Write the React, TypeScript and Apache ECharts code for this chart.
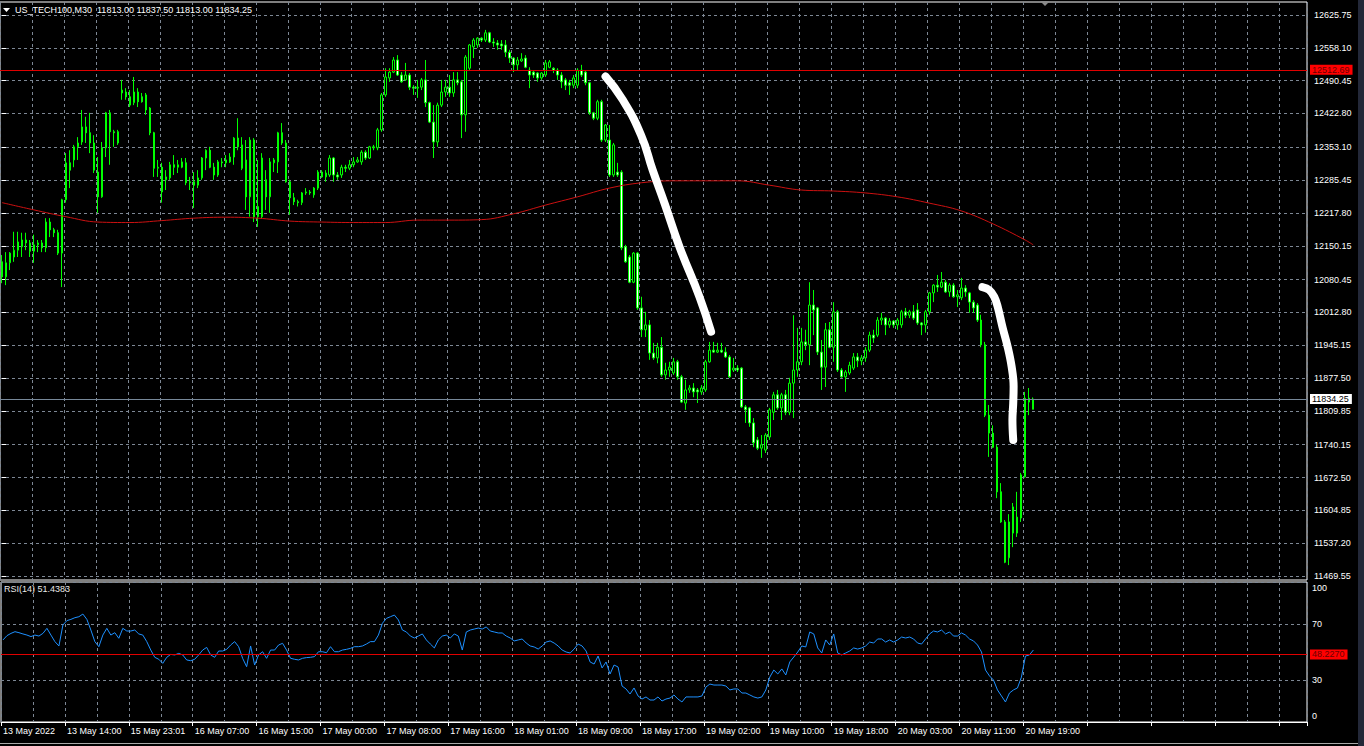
import React, { useEffect, useRef } from "react";
import * as echarts from "echarts";

const FONT = "'Liberation Sans', Arial, sans-serif";

const symbolHeader = "US_TECH100,M30";
const headerOHLC = ["11813.00", "11837.50", "11813.00", "11834.25"];
const rsiHeader = "RSI(14) 51.4383";

const priceTickLabels = [
  "11469.55", "11537.20", "11604.85", "11672.50", "11740.15", "11809.85",
  "11877.50", "11945.15", "12012.80", "12080.45", "12150.15", "12217.80",
  "12285.45", "12353.10", "12422.80", "12490.45", "12558.10", "12625.75",
];
const rsiTickValues = [0, 30, 70, 100];
const timeTickLabels = [
  "13 May 2022", "13 May 14:00", "15 May 23:01", "16 May 07:00", "16 May 15:00",
  "17 May 00:00", "17 May 08:00", "17 May 16:00", "18 May 01:00", "18 May 09:00",
  "18 May 17:00", "19 May 02:00", "19 May 10:00", "19 May 18:00", "20 May 03:00",
  "20 May 11:00", "20 May 19:00",
];

// [open, close, low, high]
const candles = [
  [12117,12086,12073,12131],[12086,12115,12069,12137],[12115,12135,12100,12137],[12127,12141,12117,12179],
  [12141,12158,12127,12179],[12148,12162,12127,12177],[12162,12156,12141,12177],[12156,12139,12127,12162],
  [12139,12152,12115,12173],[12152,12156,12137,12162],[12156,12146,12137,12162],[12146,12199,12137,12207],
  [12199,12183,12168,12207],[12183,12177,12168,12187],[12177,12135,12131,12183],[12135,12245,12065,12247],
  [12245,12321,12239,12341],[12321,12306,12269,12347],[12327,12354,12312,12358],[12354,12362,12327,12374],
  [12364,12395,12358,12430],[12395,12383,12362,12416],[12383,12362,12341,12424],[12362,12306,12300,12378],
  [12302,12251,12218,12333],[12251,12352,12249,12364],[12352,12424,12333,12426],[12424,12385,12317,12430],
  [12385,12383,12354,12389],[12385,12362,12358,12389],[12465,12471,12451,12492],[12467,12457,12451,12475],
  [12457,12440,12436,12471],[12445,12467,12440,12498],[12467,12447,12436,12475],[12457,12447,12445,12465],
  [12461,12430,12420,12465],[12434,12383,12378,12436],[12383,12310,12292,12385],[12310,12312,12292,12327],
  [12312,12261,12239,12321],[12286,12292,12265,12306],[12290,12317,12286,12323],[12317,12312,12296,12337],
  [12312,12317,12300,12327],[12312,12323,12310,12331],[12321,12280,12275,12331],[12280,12282,12265,12292],
  [12282,12275,12228,12302],[12275,12290,12269,12306],[12290,12331,12286,12333],[12331,12347,12306,12349],
  [12347,12312,12310,12354],[12312,12296,12286,12321],[12296,12323,12292,12327],[12323,12321,12312,12331],
  [12321,12327,12312,12337],[12323,12333,12321,12341],[12333,12372,12317,12374],[12372,12354,12347,12413],
  [12358,12310,12306,12374],[12327,12251,12224,12368],[12251,12368,12210,12374],[12368,12210,12199,12372],
  [12210,12231,12189,12327],[12210,12331,12207,12341],[12286,12251,12224,12306],[12251,12323,12218,12331],
  [12321,12327,12302,12331],[12323,12383,12300,12385],[12383,12362,12358,12403],[12362,12282,12280,12368],
  [12282,12249,12214,12286],[12249,12241,12234,12259],[12241,12239,12231,12245],[12239,12259,12234,12261],
  [12259,12261,12255,12269],[12261,12259,12255,12265],[12255,12269,12249,12271],[12269,12302,12265,12306],
  [12302,12292,12290,12306],[12292,12300,12282,12306],[12296,12331,12292,12337],[12331,12296,12282,12333],
  [12296,12292,12286,12302],[12296,12312,12290,12317],[12312,12310,12302,12317],[12310,12317,12306,12327],
  [12317,12323,12312,12333],[12323,12327,12321,12333],[12323,12343,12317,12347],[12343,12331,12327,12347],
  [12331,12354,12329,12356],[12352,12354,12347,12358],[12352,12389,12347,12393],[12389,12461,12385,12465],
  [12461,12498,12457,12516],[12496,12508,12488,12516],[12508,12533,12506,12539],[12533,12502,12500,12543],
  [12502,12488,12486,12508],[12492,12502,12490,12527],[12502,12477,12471,12506],[12477,12475,12461,12481],
  [12475,12477,12455,12492],[12477,12492,12471,12496],[12492,12445,12436,12533],[12445,12405,12403,12447],
  [12405,12364,12331,12440],[12364,12440,12354,12445],[12440,12467,12436,12492],[12467,12477,12457,12492],
  [12477,12465,12457,12502],[12465,12492,12457,12508],[12492,12486,12481,12508],[12488,12420,12372,12492],
  [12420,12539,12385,12543],[12516,12564,12512,12566],[12560,12574,12537,12578],[12564,12578,12558,12580],
  [12578,12574,12570,12580],[12574,12589,12570,12595],[12589,12570,12568,12591],[12570,12568,12560,12578],
  [12568,12564,12554,12574],[12566,12562,12554,12574],[12564,12549,12539,12574],[12549,12537,12527,12554],
  [12537,12523,12508,12539],[12523,12533,12512,12539],[12531,12535,12529,12547],[12537,12518,12516,12543],
  [12512,12502,12475,12518],[12508,12502,12496,12512],[12506,12496,12488,12508],[12496,12506,12492,12508],
  [12502,12527,12498,12533],[12518,12529,12516,12533],[12516,12512,12506,12518],[12512,12502,12492,12516],
  [12502,12488,12475,12508],[12492,12481,12471,12496],[12486,12481,12461,12492],[12481,12496,12475,12502],
  [12481,12512,12475,12516],[12512,12502,12498,12523],[12508,12486,12481,12512],[12486,12424,12420,12488],
  [12424,12413,12409,12426],[12413,12447,12409,12451],[12447,12368,12364,12451],[12368,12399,12364,12401],
  [12368,12296,12292,12399],[12296,12358,12292,12362],[12302,12296,12292,12321],[12302,12146,12141,12306],
  [12148,12117,12115,12152],[12127,12075,12073,12131],[12075,12135,12073,12137],[12135,12022,12018,12137],
  [12022,11977,11962,12045],[11977,11987,11962,12014],[11987,11929,11915,11997],[11929,11919,11915,11950],
  [11919,11941,11908,11950],[11941,11884,11880,11962],[11884,11894,11874,11909],[11894,11900,11880,11911],
  [11888,11911,11884,11919],[11911,11880,11874,11915],[11880,11828,11826,11884],[11826,11853,11812,11874],
  [11853,11857,11847,11863],[11857,11849,11838,11867],[11853,11849,11826,11857],[11849,11857,11843,11863],
  [11853,11911,11849,11915],[11911,11935,11909,11952],[11935,11931,11929,11952],[11931,11935,11929,11950],
  [11935,11931,11929,11950],[11931,11921,11919,11941],[11921,11880,11878,11925],[11894,11898,11890,11919],
  [11898,11894,11890,11904],[11898,11818,11816,11900],[11818,11812,11785,11822],[11816,11785,11777,11818],
  [11785,11744,11735,11795],[11750,11733,11729,11756],[11733,11740,11713,11760],[11729,11760,11723,11764],
  [11756,11812,11750,11816],[11807,11843,11791,11849],[11843,11816,11812,11853],[11816,11843,11791,11847],
  [11843,11807,11801,11853],[11807,11867,11801,11878],[11867,11894,11795,12007],[11894,11911,11880,11981],
  [11911,11952,11904,11981],[11952,11946,11935,11977],[11946,12028,11904,12075],[12028,12018,11966,12059],
  [12022,11931,11925,12024],[11931,11900,11853,11956],[11900,11977,11859,11991],[11977,11941,11939,11993],
  [11941,12014,11911,12034],[12014,11894,11890,12018],[11894,11880,11878,11898],[11880,11890,11849,11894],
  [11888,11904,11884,11911],[11898,11921,11894,11929],[11921,11913,11900,11929],[11913,11919,11904,11925],
  [11919,11935,11911,11941],[11935,11966,11931,11973],[11966,11960,11950,11977],[11966,11997,11962,12003],
  [11997,12001,11987,12012],[12001,11987,11966,12003],[11987,11995,11981,12001],[11995,11987,11981,11997],
  [11987,11997,11977,12001],[11987,12014,11981,12018],[12014,12007,12001,12022],[12007,12014,12001,12018],
  [12014,12001,11997,12028],[12018,11991,11987,12032],[11991,11987,11966,11993],[11987,12014,11971,12018],
  [12014,12053,12008,12055],[12053,12069,12034,12071],[12069,12065,12055,12090],[12065,12075,12063,12096],
  [12075,12055,12053,12080],[12055,12069,12045,12073],[12069,12045,12043,12073],[12045,12049,12024,12059],
  [12043,12063,12038,12084],[12063,12055,12045,12069],[12053,12034,12012,12055],[12034,12022,12012,12038],
  [12028,11997,11993,12032],[11997,11946,11941,12008],[11946,11801,11797,11952],[11801,11764,11715,11822],
  [11764,11735,11733,11780],[11735,11643,11630,11740],[11643,11581,11579,11661],[11581,11498,11496,11585],
  [11507,11581,11492,11597],[11612,11558,11529,11620],[11558,11591,11550,11643],[11589,11678,11581,11682],
  [11674,11836,11672,11849],[11836,11828,11801,11857],[11813,11834.25,11813,11837.5],
];

const rsiValues = [
  58.6,61.7,63.3,64.5,63.8,62.9,62.1,61,62.1,61.4,63.3,66.9,62.1,57.4,54.3,69.3,72.4,73.3,74.5,75.2,
  77.1,73.3,65.7,57.4,53.8,62.1,66.9,62.1,63.8,59.8,66.9,65,65,65.7,62.9,62.1,57.4,51.4,46.2,44.8,
  41.9,46.2,48.3,47.9,49,47.9,44.3,43.8,44.8,47.9,51.4,53.3,47.9,46.2,50.7,50.7,51.9,55,57.4,53.8,
  45.5,39.5,54.3,40.7,47.9,50.2,45.5,51.4,51.4,55,56.2,51.4,45.5,44.8,44.3,45.5,46,46.2,46.7,50.2,
  50.2,49.5,53.8,50.2,50.2,51.4,51.9,52.6,53.8,53.8,54.3,55.7,57.4,57.4,62.1,70.5,74,75.2,76.4,72.9,
  65.7,64.3,61.4,60,61.4,62.9,58.6,55.7,52.9,58.6,61.4,62.1,60,62.9,61.4,51.4,64.3,65.7,66.4,67.1,
  66.4,67.9,65,64.3,63.6,63.6,61.4,60,57.9,58.6,59.3,56.4,54.3,53.6,52.1,54.3,57.1,57.9,56.4,54.3,
  51.4,50,49.3,52.1,55.7,54.3,50.7,42.9,41.4,47.1,38.6,42.9,34.3,40.7,39.3,25.7,23.6,20,24.3,18.6,
  16.4,17.9,15.7,15.7,17.9,15,16.4,17.1,19.3,16.4,14.3,17.9,17.9,17.9,17.9,18.6,25,27.1,26.4,26.4,
  26.4,25.7,22.9,23.6,23.6,20.7,20.7,19.3,17.9,17.1,17.9,22.9,32.1,37.1,34.3,37.9,33.6,42.9,46.4,50,
  54.3,53.6,64.3,62.9,52.9,49.3,58.6,55,62.9,49.3,47.9,49.3,50.7,52.9,52.1,52.9,54.3,57.1,56.4,59.3,
  59.3,57.1,58.6,57.1,58.6,60.7,60,60.7,59.3,56.4,55.7,59.3,62.9,65,64.3,65.7,62.9,64.3,61.4,61.4,
  63.6,62.1,59.3,57.9,55,50,37.1,32.9,30,22.9,18.6,14.3,20.7,22.9,24.3,32.1,47.1,47.9,51.4383,
];

// moving average read at every 8th bar: [bar index, value]
const maPoints = [
  [0,12239],[8,12224],[16,12210],[24,12199],[32,12198],[40,12202],[48,12207],[56,12209],[64,12207],
  [72,12201],[80,12199],[88,12198],[96,12198],[104,12203],[112,12203],[120,12204],[128,12216],
  [136,12234],[144,12251],[152,12269],[160,12280],[168,12284],[176,12284],[184,12284],[192,12275],
  [200,12265],[208,12263],[216,12259],[224,12251],[232,12238],[240,12222],[248,12195],[256,12162],[258,12152],
];

// hand-drawn white strokes: [bar position, price]
const strokeA = [
  [151,12499],[155.3,12451],[159.9,12378],[162.8,12306],[165.75,12238],[169.5,12148],[174.5,12045],[177.4,11973],
];
const strokeB = [
  [245.3,12065],[247,12059],[248.25,12045],[249.1,12025],[250.3,11983],[251.6,11942],
  [252.6,11901],[253.1,11860],[253,11826],[252.8,11791],[253,11750],
];

const resistanceLevel = 12512.69;
const lastPrice = 11834.25;
const rsiLevel = 48.227;

const SLOTS = 327;
const LABEL_EVERY = 16;
const GRID_EVERY = 8;

export default function App() {
  const ref = useRef<HTMLDivElement>(null);

  useEffect(() => {
    document.body.style.margin = "0";
    document.body.style.background = "#000";
    if (!ref.current) return;
    const chart = echarts.init(ref.current, undefined, { renderer: "svg" });
    const categories = Array.from({ length: SLOTS }, (_, i) => String(i));
    const priceTickValues = priceTickLabels.map(Number);
    const gridLine = { color: "#7d8794", type: [3, 3], width: 1 };
    const txt = { fontFamily: FONT, fontSize: 9 };

    const option: any = {
      animation: false,
      backgroundColor: "#000000",
      textStyle: { fontFamily: FONT },
      title: [
        {
          text: `${symbolHeader}  ${headerOHLC.join(" ")}`,
          left: 15, top: 5, padding: 0,
          textStyle: { ...txt, color: "#ffffff", fontWeight: "normal" },
        },
        {
          text: rsiHeader,
          left: 4, top: 584, padding: 0,
          textStyle: { ...txt, color: "#e8e8e8", fontWeight: "normal" },
        },
      ],
      grid: [
        { left: 0, top: 2, width: 1307, height: 578, show: true, borderColor: "#ffffff", borderWidth: 1, backgroundColor: "transparent" },
        { left: 0, top: 582, width: 1307, height: 140, show: true, borderColor: "#ffffff", borderWidth: 1, backgroundColor: "transparent" },
      ],
      xAxis: [
        {
          type: "category", gridIndex: 0, data: categories, boundaryGap: true,
          axisLine: { show: false }, axisTick: { show: false }, axisLabel: { show: false },
          splitLine: { show: true, interval: (i: number) => i % GRID_EVERY === 0, lineStyle: gridLine },
        },
        {
          type: "category", gridIndex: 1, data: categories, boundaryGap: true,
          axisLine: { show: true, lineStyle: { color: "#ffffff", width: 1 } },
          axisTick: { show: true, interval: (i: number) => i % LABEL_EVERY === 0, length: 4, lineStyle: { color: "#ffffff" } },
          axisLabel: {
            show: true,
            interval: (i: number) => i % LABEL_EVERY === 0,
            formatter: (_v: string, i: number) => timeTickLabels[i / LABEL_EVERY] ?? "",
            color: "#ffffff", align: "left", margin: 4, ...txt,
          },
          splitLine: { show: true, interval: (i: number) => i % GRID_EVERY === 0, lineStyle: gridLine },
        },
        { type: "value", gridIndex: 0, min: -0.5, max: SLOTS - 0.5, show: false },
      ],
      yAxis: [
        {
          type: "value", gridIndex: 0, position: "right",
          min: 11461.3, max: 12652.5,
          axisLine: { show: false },
          axisTick: { show: true, customValues: priceTickValues, length: 4, lineStyle: { color: "#ffffff" } },
          axisLabel: {
            customValues: priceTickValues,
            formatter: (v: number) => priceTickLabels.find((s) => Number(s) === v) ?? v.toFixed(2),
            color: "#ffffff", margin: 7, ...txt,
          },
          splitLine: { show: true, lineStyle: gridLine },
        },
        {
          type: "value", gridIndex: 1, position: "right", min: 0, max: 100,
          axisLine: { show: false },
          axisTick: { show: false, customValues: rsiTickValues },
          axisLabel: {
            customValues: rsiTickValues,
            formatter: (v: number) => (v === 100 ? `{top|${v}}` : v === 0 ? `{bot|${v}}` : `${v}`),
            color: "#ffffff", margin: 5, ...txt,
            rich: {
              top: { padding: [12, 0, 0, 0], color: "#ffffff", ...txt },
              bot: { padding: [0, 0, 12, 0], color: "#ffffff", ...txt },
            },
          },
          splitLine: { show: true, lineStyle: gridLine },
        },
      ],
      series: [
        {
          type: "candlestick", xAxisIndex: 0, yAxisIndex: 0, data: candles, barWidth: 2,
          itemStyle: { color: "#000000", color0: "#ffffff", borderColor: "#00ff00", borderColor0: "#00ff00", borderWidth: 1 },
          emphasis: { disabled: true },
          markLine: {
            silent: true, symbol: ["none", "none"], animation: false,
            data: [
              {
                yAxis: resistanceLevel,
                lineStyle: { color: "#e00000", type: "solid", width: 1 },
                label: { show: true, position: "end", formatter: resistanceLevel.toFixed(2), backgroundColor: "#ff0000", color: "#6a0000", padding: [1, 3, 0, 2], distance: 3, ...txt },
              },
              {
                yAxis: lastPrice,
                lineStyle: { color: "#778899", type: "solid", width: 1 },
                label: { show: true, position: "end", formatter: lastPrice.toFixed(2), backgroundColor: "#ffffff", color: "#000000", padding: [1, 3, 0, 2], distance: 3, ...txt },
              },
            ],
          },
        },
        {
          type: "line", xAxisIndex: 0, yAxisIndex: 0, data: maPoints, symbol: "none", smooth: 0.4, silent: true,
          lineStyle: { color: "#cc1111", width: 1 },
        },
        {
          type: "line", xAxisIndex: 1, yAxisIndex: 1, data: rsiValues, symbol: "none", silent: true,
          lineStyle: { color: "#1e90ff", width: 1 },
          markLine: {
            silent: true, symbol: ["none", "none"], animation: false,
            data: [
              {
                yAxis: rsiLevel,
                lineStyle: { color: "#e00000", type: "solid", width: 1 },
                label: { show: true, position: "end", formatter: rsiLevel.toFixed(4), backgroundColor: "#ff0000", color: "#6a0000", padding: [1, 3, 0, 2], distance: 3, ...txt },
              },
            ],
          },
        },
        {
          type: "line", xAxisIndex: 2, yAxisIndex: 0, data: strokeA, symbol: "none", smooth: 0.5, silent: true, z: 10,
          lineStyle: { color: "#ffffff", width: 8, cap: "round", join: "round" },
        },
        {
          type: "line", xAxisIndex: 2, yAxisIndex: 0, data: strokeB, symbol: "none", smooth: 0.4, silent: true, z: 10,
          lineStyle: { color: "#ffffff", width: 8, cap: "round", join: "round" },
        },
      ],
      graphic: [
        { type: "polygon", shape: { points: [[3, 8], [10, 8], [6.5, 12]] }, style: { fill: "#ffffff" } },
        { type: "polygon", shape: { points: [[1040, 1], [1050, 1], [1045, 6]] }, style: { fill: "#8a8a8a" } },
        { type: "rect", shape: { x: 1358, y: 0, width: 6, height: 746 }, style: { fill: "#232838" } },
        { type: "line", shape: { x1: 0, y1: 743.5, x2: 1358, y2: 743.5 }, style: { stroke: "#a8a8a8", lineWidth: 1 } },
      ],
    };

    chart.setOption(option);
    return () => chart.dispose();
  }, []);

  return <div ref={ref} style={{ width: 1364, height: 746, background: "#000" }} />;
}
